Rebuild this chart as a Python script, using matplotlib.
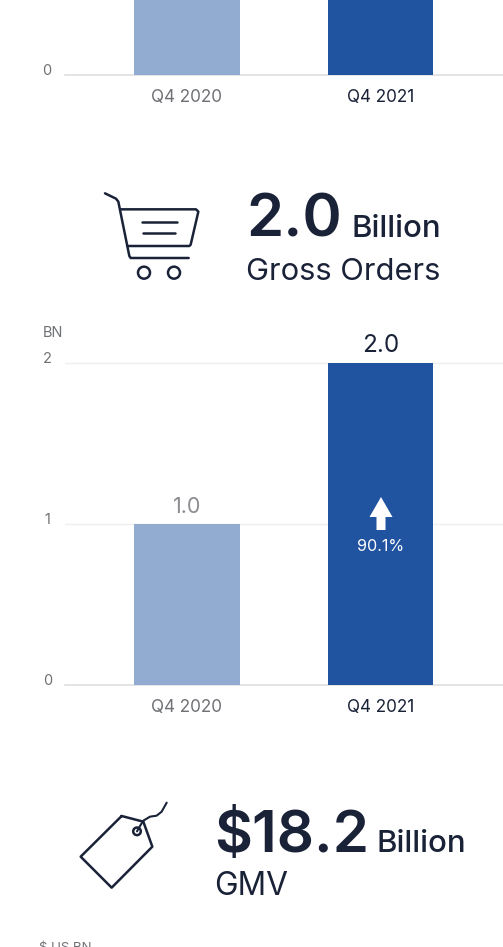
import matplotlib
matplotlib.use("Agg")
import matplotlib.pyplot as plt
from matplotlib.patches import Circle, Polygon

plt.rcParams['font.family'] = ['Inter', 'DejaVu Sans']

W, H = 503, 947
DARK = '#1a2238'
GRAY = '#8b8d91'
LABEL_GRAY = '#6f7175'
BAR_LIGHT = '#92abd0'
BAR_DARK = '#2053a0'

quarters = ['Q4 2020', 'Q4 2021']
top_values = [1.0, 1.0]
orders_values = [1.0, 2.0]
orders_labels = ['1.0', '2.0']
orders_ticks = [0, 1, 2]
orders_growth = '90.1%'


def px_axes(fig, left, top, right, bottom):
    return fig.add_axes([left / W, 1 - bottom / H, (right - left) / W, (bottom - top) / H])


def bar_panel(ax, values, ymax, pad):
    ax.bar(range(2), values, width=0.545, color=[BAR_LIGHT, BAR_DARK], zorder=3)
    ax.set_xlim(-0.63, 1.633)
    ax.set_ylim(0, ymax)
    for s in ['top', 'left', 'right']:
        ax.spines[s].set_visible(False)
    ax.spines['bottom'].set_color('#dcdde0')
    ax.spines['bottom'].set_linewidth(1.1)
    ax.set_yticks([])
    ax.set_xticks(range(2))
    ax.set_xticklabels(quarters, fontsize=12.3)
    ax.tick_params(axis='x', length=0, pad=pad)
    ax.get_xticklabels()[0].set_color(LABEL_GRAY)
    ax.get_xticklabels()[1].set_color(DARK)


fig = plt.figure(figsize=(W / 100, H / 100), dpi=100, facecolor='white')

# upper chart, only its lower part is in frame
ax1 = px_axes(fig, 65, -5, 503, 75.3)
bar_panel(ax1, top_values, 0.5, 10)
ax1.annotate('0', (0, 0), xycoords=('axes fraction', 'data'), xytext=(-13.5, 2.8),
             textcoords='offset points', ha='center', va='center', fontsize=10.5, color=LABEL_GRAY)

# gross orders chart
ax2 = px_axes(fig, 65, 347.2, 503, 684.7)
bar_panel(ax2, orders_values, 2.1, 10)
for t in orders_ticks:
    if t > 0:
        ax2.axhline(t, color='#efeff1', lw=1, zorder=1)
    ax2.annotate(str(t), (0, t), xycoords=('axes fraction', 'data'), xytext=(-12.5, 2.8),
                 textcoords='offset points', ha='center', va='center', fontsize=10.5, color=LABEL_GRAY)
label_sizes = [15.5, 17.5]
for i, v in enumerate(orders_values):
    ax2.annotate(orders_labels[i], (i, v), xytext=(0, 7.8), textcoords='offset points',
                 ha='center', va='baseline', fontsize=label_sizes[i], color=[GRAY, DARK][i],
                 annotation_clip=False)

# overlay in pixel coordinates for headings and icons
ov = fig.add_axes([0, 0, 1, 1], zorder=10)
ov.set_xlim(0, W)
ov.set_ylim(H, 0)
ov.axis('off')
ov.patch.set_alpha(0)

ov.text(43, 333, 'BN', fontsize=10.5, color=LABEL_GRAY, va='center')
ov.text(39, 951, '$ US BN', fontsize=9.5, color=LABEL_GRAY, va='baseline')

# growth arrow on the dark bar
ov.add_patch(Polygon([(381, 497), (392.5, 517), (385.5, 517), (385.5, 530), (376.5, 530),
                      (376.5, 517), (369.5, 517)], closed=True, fc='white', ec='none'))
ov.text(380.5, 546.5, orders_growth, fontsize=11.6, color='white', ha='center', va='center')

# headings
ov.text(246.5, 236, '2.0', fontsize=43, fontweight='semibold', color=DARK, va='baseline')
ov.text(352, 237, 'Billion', fontsize=22.5, fontweight='medium', color=DARK, va='baseline')
ov.text(246.5, 280, 'Gross Orders', fontsize=22.2, color=DARK, va='baseline')
ov.text(214.5, 852, '$18.2', fontsize=42, fontweight='semibold', color=DARK, va='baseline')
ov.text(377, 852, 'Billion', fontsize=22.5, fontweight='medium', color=DARK, va='baseline')
ov.text(214, 895, 'GMV', fontsize=22.8, color=DARK, va='baseline')


def line(points, ox, oy, lw=1.8):
    # points are in 3x units relative to the icon's corner
    xs = [ox + p[0] / 3 for p in points]
    ys = [oy + p[1] / 3 for p in points]
    ov.plot(xs, ys, color=DARK, lw=lw, solid_capstyle='round', solid_joinstyle='round')


# cart icon
cx, cy = 80, 170
line([(75, 70), (108, 86), (115, 95), (148, 258), (152, 264), (326, 264)], cx, cy)
line([(122, 118), (348, 118), (355, 125), (332, 224), (328, 228), (142, 228)], cx, cy)
line([(185, 155), (290, 155)], cx, cy)
line([(190, 190), (285, 190)], cx, cy)
for wx in [192, 282]:
    ov.add_patch(Circle((cx + wx / 3, cy + 308 / 3), 6, fc='none', ec=DARK, lw=1.8))

# price tag icon
tx, ty = 60, 790
line([(185, 78), (250, 95), (277, 170), (155, 293), (62, 200), (185, 78)], tx, ty)
line([(231, 124), (240, 108), (250, 92), (270, 80), (290, 77), (305, 65), (320, 38)], tx, ty, lw=1.5)
ov.add_patch(Circle((tx + 231 / 3, ty + 124 / 3), 3.8, fc='none', ec=DARK, lw=1.8))

fig.savefig('out.png', dpi=100)
